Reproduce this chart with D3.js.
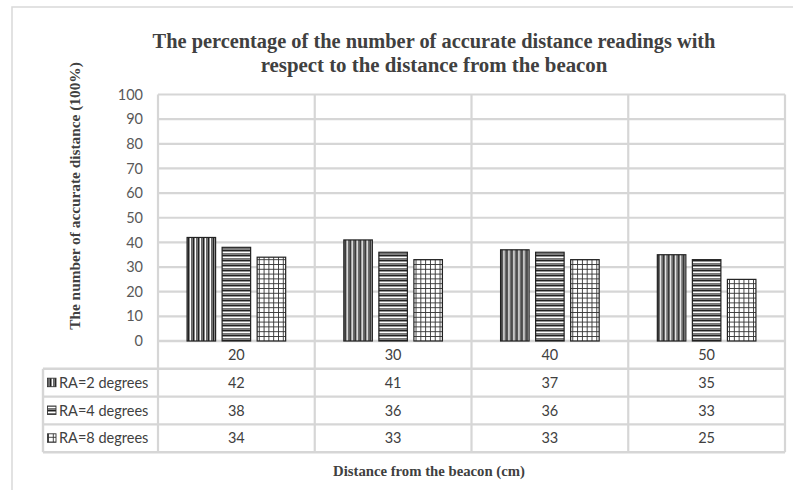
<!DOCTYPE html>
<html>
<head>
<meta charset="utf-8">
<script src="https://cdn.jsdelivr.net/npm/d3@7"></script>
<style>
  html, body { margin: 0; padding: 0; background: #fff; }
  svg { display: block; }
</style>
</head>
<body>
<svg id="chart" width="793" height="490"></svg>
<script>
// Distances from the beacon (cm)
const categories = ["20", "30", "40", "50"];
// Series names (reception angle)
const seriesNames = ["RA=2 degrees", "RA=4 degrees", "RA=8 degrees"];
// Percentage of accurate readings per series
const ra2Values = [42, 41, 37, 35];
const ra4Values = [38, 36, 36, 33];
const ra8Values = [34, 33, 33, 25];
// Y axis ticks
const yTicks = [0, 10, 20, 30, 40, 50, 60, 70, 80, 90, 100];

const seriesValues = [ra2Values, ra4Values, ra8Values];
const patternIds = ["pat-vert", "pat-horz", "pat-grid"];

const svg = d3.select("#chart");
const W = 793, H = 490;

const plot = { left: 158, right: 785, top: 94.5, bottom: 341 };
const table = { legendLeft: 43, rowH: 27.8 };
const gridColor = "#d6d6d6";

// ---- patterns ----
const defs = svg.append("defs");
const pv = defs.append("pattern").attr("id", "pat-vert")
  .attr("patternUnits", "userSpaceOnUse").attr("width", 5).attr("height", 5);
pv.append("rect").attr("width", 5).attr("height", 5).attr("fill", "#8a8a8a");
pv.append("rect").attr("x", 0).attr("width", 1).attr("height", 5).attr("fill", "#222");
pv.append("rect").attr("x", 2).attr("width", 1).attr("height", 5).attr("fill", "#fff");
pv.append("rect").attr("x", 3.5).attr("width", 0.8).attr("height", 5).attr("fill", "#444");

const ph = defs.append("pattern").attr("id", "pat-horz")
  .attr("patternUnits", "userSpaceOnUse").attr("width", 5).attr("height", 5);
ph.append("rect").attr("width", 5).attr("height", 5).attr("fill", "#959595");
ph.append("rect").attr("y", 0).attr("height", 1).attr("width", 5).attr("fill", "#222");
ph.append("rect").attr("y", 2).attr("height", 1).attr("width", 5).attr("fill", "#fff");
ph.append("rect").attr("y", 3.5).attr("height", 0.8).attr("width", 5).attr("fill", "#555");

const pg = defs.append("pattern").attr("id", "pat-grid")
  .attr("patternUnits", "userSpaceOnUse").attr("width", 4.8).attr("height", 4.8);
pg.append("rect").attr("width", 4.8).attr("height", 4.8).attr("fill", "#fff");
pg.append("rect").attr("width", 0.9).attr("height", 4.8).attr("fill", "#333");
pg.append("rect").attr("width", 4.8).attr("height", 0.9).attr("fill", "#333");

// ---- outer chart frame ----
svg.append("rect")
  .attr("x", 12).attr("y", 7).attr("width", W).attr("height", H)
  .attr("fill", "none").attr("stroke", "#d9d9d9").attr("stroke-width", 1.5);

// ---- scales ----
const x0 = d3.scaleBand().domain(categories).range([plot.left, plot.right]).padding(0);
const x1 = d3.scaleBand().domain(seriesNames).range([0, x0.bandwidth()])
  .paddingInner(0.186).paddingOuter(0.83);
const y = d3.scaleLinear().domain([0, 100]).range([plot.bottom, plot.top]);

// ---- gridlines ----
svg.append("g").selectAll("line").data(yTicks).join("line")
  .attr("x1", plot.left).attr("x2", plot.right)
  .attr("y1", d => y(d)).attr("y2", d => y(d))
  .attr("stroke", gridColor).attr("stroke-width", 2.2);

// table rows geometry
const rowTops = d3.range(5).map(i => plot.bottom + i * table.rowH);
const tableBottom = rowTops[4];

// vertical dividers through plot and table
const divX = categories.map(c => x0(c)).concat([plot.right]);
svg.append("g").selectAll("line").data(divX).join("line")
  .attr("x1", d => d).attr("x2", d => d)
  .attr("y1", plot.top).attr("y2", tableBottom)
  .attr("stroke", gridColor).attr("stroke-width", 2.2);

// horizontal table lines
svg.append("g").selectAll("line").data(rowTops).join("line")
  .attr("x1", (d, i) => i === 0 ? plot.left : table.legendLeft)
  .attr("x2", plot.right)
  .attr("y1", d => d).attr("y2", d => d)
  .attr("stroke", gridColor).attr("stroke-width", 2.4);
// legend column left border
svg.append("line")
  .attr("x1", table.legendLeft).attr("x2", table.legendLeft)
  .attr("y1", rowTops[1]).attr("y2", tableBottom)
  .attr("stroke", gridColor).attr("stroke-width", 2.4);

// ---- y axis tick labels ----
const yAxis = d3.axisLeft(y).tickValues(yTicks).tickSize(0).tickPadding(0);
const yg = svg.append("g").attr("transform", `translate(143,0)`).call(yAxis);
yg.select(".domain").remove();
yg.selectAll("text")
  .attr("font-family", "Lato, 'Open Sans', sans-serif")
  .attr("font-size", 14.5).attr("fill", "#595959");

// ---- bars ----
const groups = svg.append("g").selectAll("g").data(categories).join("g")
  .attr("transform", d => `translate(${x0(d)},0)`);
groups.selectAll("rect")
  .data((c, ci) => seriesNames.map((s, si) => ({ s, si, v: seriesValues[si][ci] })))
  .join("rect")
  .attr("x", d => x1(d.s))
  .attr("y", d => y(d.v))
  .attr("width", x1.bandwidth())
  .attr("height", d => y(0) - y(d.v))
  .attr("fill", d => `url(#${patternIds[d.si]})`)
  .attr("stroke", "#222").attr("stroke-width", 1.2);

// ---- data table text ----
const tableFont = "Lato, 'Open Sans', sans-serif";
svg.append("g").selectAll("text").data(categories).join("text")
  .attr("x", d => x0(d) + x0.bandwidth() / 2)
  .attr("y", rowTops[0] + table.rowH / 2 + 5)
  .attr("text-anchor", "middle")
  .attr("font-family", tableFont).attr("font-size", 14.5).attr("fill", "#404040")
  .text(d => d);

seriesNames.forEach((s, si) => {
  const rowY = rowTops[si + 1] + table.rowH / 2 + 5;
  svg.append("g").selectAll("text").data(categories).join("text")
    .attr("x", d => x0(d) + x0.bandwidth() / 2)
    .attr("y", rowY)
    .attr("text-anchor", "middle")
    .attr("font-family", tableFont).attr("font-size", 14.5).attr("fill", "#404040")
    .text((d, ci) => seriesValues[si][ci]);
  // legend key
  svg.append("rect")
    .attr("x", 47.5).attr("y", rowY - 9.5).attr("width", 8.5).attr("height", 8.5)
    .attr("fill", `url(#${patternIds[si]})`).attr("stroke", "#333").attr("stroke-width", 0.9);
  svg.append("text")
    .attr("x", 59).attr("y", rowY)
    .attr("font-family", tableFont).attr("font-size", 14.5).attr("fill", "#404040")
    .text(s);
});

// ---- titles (condensed bold serif: natural width squeezed horizontally) ----
const serif = "'Liberation Serif', 'DejaVu Serif', serif";
function condensedText(str, cx, baseline, size, targetWidth, rotate) {
  const g = svg.append("g");
  const t = g.append("text")
    .attr("text-anchor", "middle")
    .attr("font-family", serif).attr("font-weight", "bold").attr("font-size", size)
    .attr("fill", "#404040")
    .text(str);
  const natural = t.node().getComputedTextLength();
  const sx = targetWidth / natural;
  g.attr("transform", `translate(${cx},${baseline})` + (rotate ? " rotate(-90)" : "") + ` scale(${sx},1)`);
  return g;
}
condensedText("The percentage of the number of accurate distance readings with", 434, 48, 21.5, 563, false);
condensedText("respect to the distance from the beacon", 434, 72, 21.5, 347, false);
condensedText("The number of accurate distance (100%)", 80, 196, 15, 268, true);
condensedText("Distance from the beacon (cm)", 429, 476, 15, 192, false);
</script>
</body>
</html>
